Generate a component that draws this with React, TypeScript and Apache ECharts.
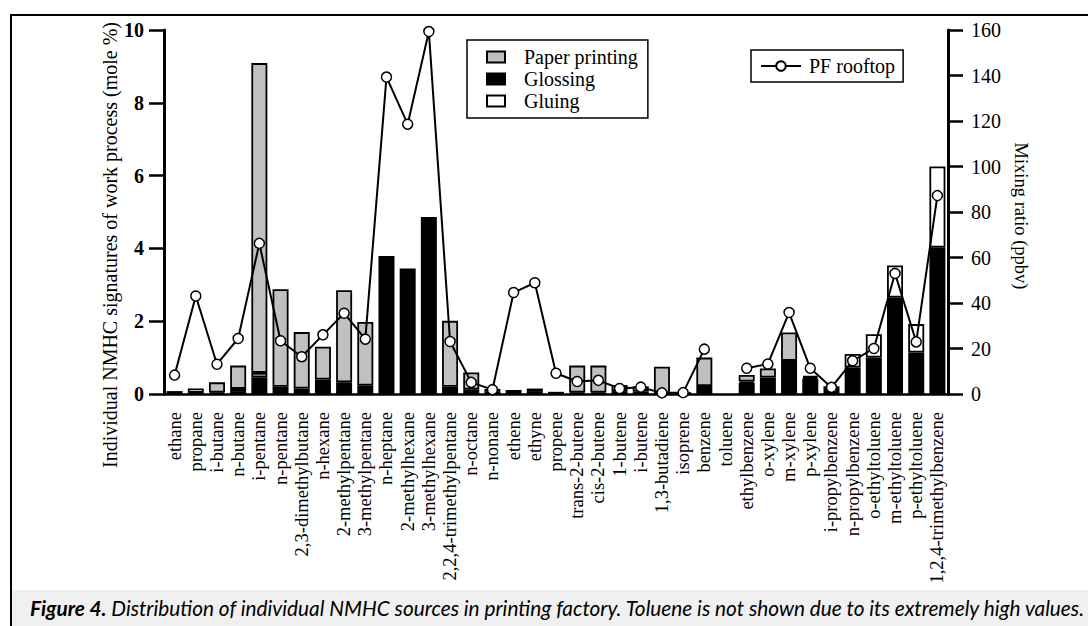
import React, { useEffect, useRef } from "react";
import * as echarts from "echarts";

const categories = [
  "ethane", "propane", "i-butane", "n-butane", "i-pentane", "n-pentane",
  "2,3-dimethylbutane", "n-hexane", "2-methylpentane", "3-methylpentane",
  "n-heptane", "2-methylhexane", "3-methylhexane", "2,2,4-trimethylpentane",
  "n-octane", "n-nonane", "ethene", "ethyne", "propene", "trans-2-butene",
  "cis-2-butene", "1-butene", "i-butene", "1,3-butadiene", "isoprene",
  "benzene", "toluene", "ethylbenzene", "o-xylene", "m-xylene", "p-xylene",
  "i-propylbenzene", "n-propylbenzene", "o-ethyltoluene", "m-ethyltoluene",
  "p-ethyltoluene", "1,2,4-trimethylbenzene",
];

// mole % (left axis), stacked: Glossing (bottom), Gluing, Paper printing (top)
const glossing = [
  0.08, 0.03, 0.04, 0.08, 0.46, 0.2, 0.15, 0.4, 0.32, 0.23,
  3.79, 3.45, 4.86, 0.2, 0.12, 0.06, 0.11, 0.08, 0.06, 0.04,
  0.04, 0.08, 0.06, 0.02, 0.05, 0.22, 0, 0.3, 0.45, 0.85,
  0.42, 0.21, 0.73, 1.0, 2.65, 1.14, 4.02,
];
const gluing = [
  0, 0.12, 0, 0.06, 0.12, 0, 0, 0, 0, 0,
  0, 0, 0, 0, 0, 0.08, 0, 0, 0, 0,
  0, 0, 0, 0, 0, 0, 0, 0.04, 0, 0.06,
  0.04, 0, 0.37, 0.64, 0.88, 0.78, 2.23,
];
const paperPrinting = [
  0, 0, 0.28, 0.64, 8.51, 2.68, 1.55, 0.9, 2.53, 1.75,
  0, 0, 0, 1.81, 0.47, 0, 0, 0.07, 0, 0.74,
  0.74, 0.17, 0.15, 0.73, 0, 0.78, 0, 0.18, 0.25, 0.78,
  0.04, 0, 0, 0, 0, 0, 0,
];
// ppbv (right axis); toluene not shown
const pfRooftop = [
  8.3, 43.1, 13.1, 24.4, 66.2, 23.4, 16.4, 26.0, 35.5, 24.1,
  139.3, 118.6, 159.3, 23.1, 5.1, 1.9, 44.6, 48.9, 9.1, 5.5,
  6.0, 2.4, 3.0, 0.5, 0.6, 19.7, null, 11.3, 13.2, 35.8,
  11.3, 2.9, 14.6, 20.0, 53.0, 22.9, 87.2,
];

const leftTicks = { min: 0, max: 10, interval: 2 };
const rightTicks = { min: 0, max: 160, interval: 20 };

const SERIF = "'Liberation Serif', 'DejaVu Serif', serif";
const CAPTION_FONT = "Lato, 'Open Sans', sans-serif";
const CAPTION =
  "Distribution of individual NMHC sources in printing factory. Toluene is not shown due to its extremely high values.";

const nz = (arr: number[]) => arr.map((v) => (v === 0 ? null : v));

export default function App() {
  const ref = useRef<HTMLDivElement>(null);

  useEffect(() => {
    if (!ref.current) return;
    const chart = echarts.init(ref.current, null, { renderer: "svg" });
    const barBorder = { borderColor: "#000", borderWidth: 1.8 };
    chart.setOption({
      animation: false,
      backgroundColor: "#fff",
      grid: { left: 164, right: 140, top: 30, bottom: 232, containLabel: false },
      legend: [
        {
          data: ["Paper printing", "Glossing", "Gluing"],
          orient: "vertical",
          left: 467,
          top: 40,
          padding: [7, 10, 7, 19],
          itemWidth: 18,
          itemHeight: 11,
          itemGap: 2,
          borderColor: "#000",
          borderWidth: 1.5,
          icon: "rect",
          textStyle: { fontFamily: SERIF, fontSize: 20, color: "#000", padding: [0, 0, 0, 14] },
        },
        {
          data: ["PF rooftop"],
          left: 751,
          top: 50,
          padding: [6, 8, 6, 9],
          itemWidth: 40,
          itemHeight: 12,
          borderColor: "#000",
          borderWidth: 1.5,
          textStyle: { fontFamily: SERIF, fontSize: 20, color: "#000", padding: [0, 0, 0, 3] },
        },
      ],
      xAxis: {
        type: "category",
        data: categories,
        offset: 8,
        axisLine: { lineStyle: { color: "#000", width: 2.5 } },
        axisTick: { alignWithLabel: true, length: 8, lineStyle: { color: "#000", width: 2.5 } },
        axisLabel: {
          rotate: 90,
          interval: 0,
          margin: 10,
          fontFamily: SERIF,
          fontSize: 18.5,
          color: "#000",
        },
      },
      yAxis: [
        {
          type: "value",
          position: "left",
          ...leftTicks,
          splitLine: { show: false },
          axisLine: { show: true, lineStyle: { color: "#000", width: 3 } },
          axisTick: { show: true, inside: false, length: 15, lineStyle: { color: "#000", width: 2.5 } },
          axisLabel: {
            margin: 20,
            fontFamily: SERIF,
            fontSize: 20,
            fontWeight: "bold",
            color: "#000",
          },
        },
        {
          type: "value",
          position: "right",
          ...rightTicks,
          splitLine: { show: false },
          axisLine: { show: true, lineStyle: { color: "#000", width: 3 } },
          axisTick: { show: true, inside: false, length: 15, lineStyle: { color: "#000", width: 2.5 } },
          axisLabel: { margin: 23, fontFamily: SERIF, fontSize: 20, color: "#000" },
        },
      ],
      series: [
        {
          name: "Glossing",
          type: "bar",
          stack: "work",
          barWidth: 16,
          data: nz(glossing),
          itemStyle: { color: "#000", ...barBorder },
        },
        {
          name: "Gluing",
          type: "bar",
          stack: "work",
          barWidth: 16,
          data: nz(gluing),
          itemStyle: { color: "#fff", ...barBorder },
        },
        {
          name: "Paper printing",
          type: "bar",
          stack: "work",
          barWidth: 16,
          data: nz(paperPrinting),
          itemStyle: { color: "#c0c0c0", ...barBorder },
        },
        {
          name: "PF rooftop",
          type: "line",
          yAxisIndex: 1,
          data: pfRooftop,
          connectNulls: false,
          symbol: "circle",
          symbolSize: 10,
          z: 5,
          lineStyle: { color: "#000", width: 2 },
          itemStyle: { color: "#fff", borderColor: "#000", borderWidth: 1.5 },
        },
      ],
      graphic: [
        {
          type: "line",
          shape: { x1: 10, y1: 15, x2: 1088, y2: 15 },
          style: { stroke: "#000", lineWidth: 2 },
        },
        {
          type: "line",
          shape: { x1: 11, y1: 14, x2: 11, y2: 626 },
          style: { stroke: "#000", lineWidth: 2 },
        },
        {
          type: "rect",
          shape: { x: 12, y: 590, width: 1076, height: 36 },
          style: { fill: "#f0f0f0" },
        },
        {
          type: "text",
          x: 30,
          y: 607,
          style: {
            text: "{b|Figure 4.} " + CAPTION,
            fontFamily: CAPTION_FONT,
            fontSize: 20.8,
            fontStyle: "italic",
            fill: "#000",
            verticalAlign: "middle",
            rich: {
              b: {
                fontFamily: CAPTION_FONT,
                fontSize: 20.8,
                fontStyle: "italic",
                fontWeight: "bold",
                fill: "#000",
              },
            },
          },
        },
        {
          type: "text",
          x: 110,
          y: 245,
          rotation: Math.PI / 2,
          style: {
            text: "Individual NMHC signatures of work process (mole %)",
            fontFamily: SERIF,
            fontSize: 20,
            fill: "#000",
            align: "center",
            verticalAlign: "middle",
          },
        },
        {
          type: "text",
          x: 1021,
          y: 216,
          rotation: -Math.PI / 2,
          style: {
            text: "Mixing ratio (ppbv)",
            fontFamily: SERIF,
            fontSize: 18.5,
            fill: "#000",
            align: "center",
            verticalAlign: "middle",
          },
        },
      ],
    });
    return () => chart.dispose();
  }, []);

  return (
    <div
      ref={ref}
      style={{ position: "absolute", left: 0, top: 0, width: 1088, height: 626 }}
    />
  );
}
